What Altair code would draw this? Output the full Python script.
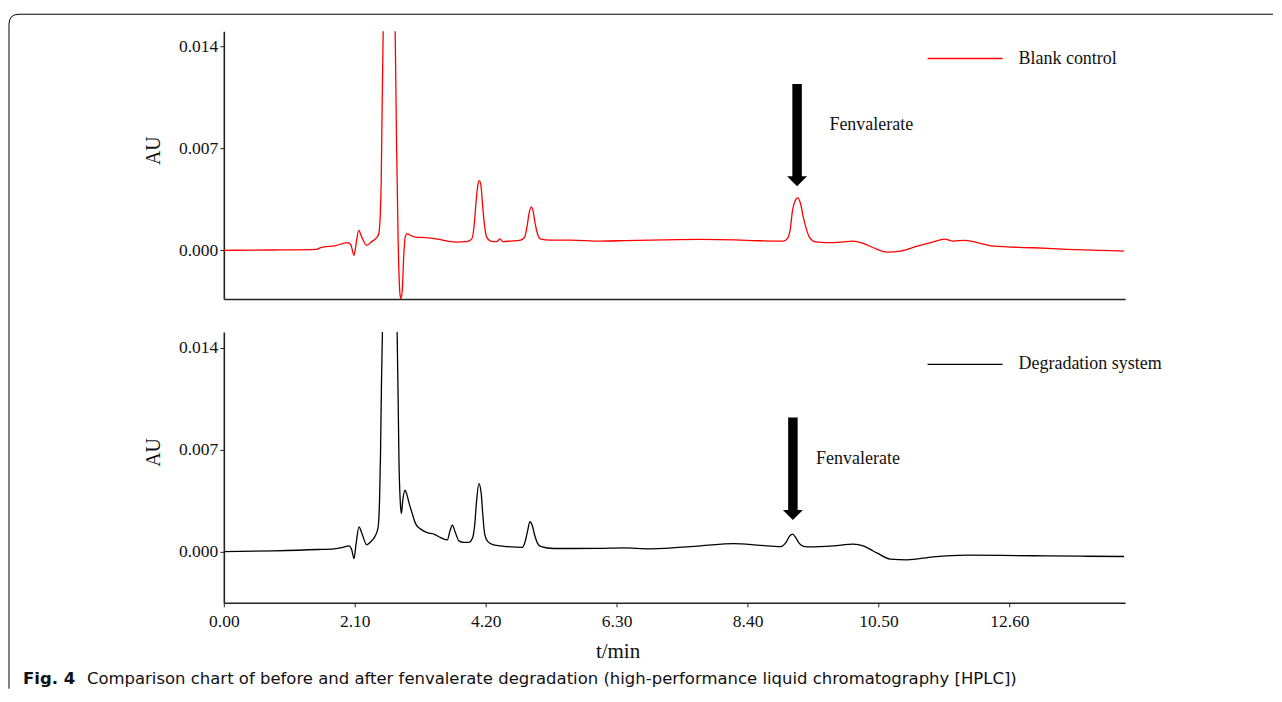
import altair as alt
import pandas as pd

# ---------------- data ----------------
t_blank = [0.000, 0.433, 0.913, 1.490, 1.554, 1.795, 1.979, 2.035, 2.088, 2.123,
           2.163, 2.212, 2.292, 2.372, 2.444, 2.484, 2.508, 2.524, 2.540, 2.556,
           2.588, 2.652, 2.716, 2.748, 2.772, 2.796, 2.821, 2.837, 2.861, 2.885,
           2.909, 2.941, 2.997, 3.077, 3.237, 3.429, 3.590, 3.718, 3.894, 3.974,
           4.014, 4.046, 4.071, 4.098, 4.127, 4.151, 4.183, 4.215, 4.279, 4.375,
           4.428, 4.471, 4.599, 4.760, 4.824, 4.864, 4.896, 4.931, 4.960, 4.992,
           5.032, 5.080, 5.240, 5.561, 6.042, 6.442, 6.843, 7.644, 8.205, 8.606,
           8.974, 9.043, 9.087, 9.119, 9.159, 9.204, 9.247, 9.295, 9.343, 9.391,
           9.487, 9.776, 10.096, 10.256, 10.417, 10.636, 10.849, 11.122, 11.378, 11.559,
           11.699, 11.891, 12.131, 12.340, 12.981, 13.526, 14.054, 14.439]
au_blank = [-0.00002, 0.00000, 0.00001, 0.00005, 0.00017, 0.00031, 0.00051, 0.00038, -0.00036, 0.00048,
            0.00135, 0.00089, 0.00032, 0.00058, 0.00082, 0.00110, 0.00233, 0.00474, 0.01023, 0.01503,
            0.02400, 0.03080, 0.02400, 0.01503, 0.00679, 0.00062, -0.00281, -0.00333, -0.00281, -0.00041,
            0.00089, 0.00113, 0.00100, 0.00089, 0.00086, 0.00075, 0.00062, 0.00055, 0.00058, 0.00075,
            0.00165, 0.00336, 0.00439, 0.00477, 0.00432, 0.00302, 0.00165, 0.00089, 0.00062, 0.00058,
            0.00077, 0.00058, 0.00062, 0.00069, 0.00089, 0.00165, 0.00254, 0.00297, 0.00268, 0.00185,
            0.00110, 0.00075, 0.00069, 0.00069, 0.00062, 0.00065, 0.00069, 0.00073, 0.00070, 0.00064,
            0.00062, 0.00082, 0.00151, 0.00268, 0.00336, 0.00359, 0.00323, 0.00223, 0.00144, 0.00089,
            0.00057, 0.00051, 0.00062, 0.00046, 0.00016, -0.00014, -0.00007, 0.00027, 0.00057, 0.00075,
            0.00062, 0.00067, 0.00046, 0.00027, 0.00016, 0.00005, -0.00002, -0.00007]

t_degr = [0.000, 0.801, 1.506, 1.763, 1.907, 2.008, 2.051, 2.088, 2.123, 2.168,
          2.212, 2.292, 2.356, 2.420, 2.473, 2.497, 2.513, 2.529, 2.543, 2.572,
          2.652, 2.732, 2.780, 2.796, 2.809, 2.829, 2.848, 2.869, 2.905, 2.933,
          2.970, 3.013, 3.077, 3.157, 3.264, 3.370, 3.478, 3.585, 3.627, 3.665,
          3.710, 3.771, 3.846, 3.931, 3.990, 4.022, 4.054, 4.091, 4.127, 4.151,
          4.183, 4.231, 4.327, 4.546, 4.787, 4.832, 4.872, 4.909, 4.944, 4.984,
          5.032, 5.080, 5.288, 5.561, 6.042, 6.394, 6.843, 7.644, 8.173, 8.606,
          8.926, 9.022, 9.071, 9.123, 9.175, 9.220, 9.279, 9.359, 9.776, 10.096,
          10.256, 10.369, 10.481, 10.689, 10.957, 11.378, 11.923, 12.452, 12.981, 13.734,
          14.439]
au_degr = [0.00002, 0.00007, 0.00016, 0.00021, 0.00031, 0.00041, 0.00014, -0.00046, 0.00062, 0.00172,
           0.00130, 0.00048, 0.00069, 0.00103, 0.00165, 0.00350, 0.00673, 0.01174, 0.01496, 0.02409,
           0.03438, 0.02409, 0.01496, 0.01036, 0.00625, 0.00350, 0.00263, 0.00350, 0.00423, 0.00398,
           0.00336, 0.00275, 0.00192, 0.00156, 0.00132, 0.00121, 0.00098, 0.00082, 0.00144, 0.00183,
           0.00137, 0.00075, 0.00065, 0.00065, 0.00096, 0.00178, 0.00350, 0.00469, 0.00405, 0.00268,
           0.00124, 0.00072, 0.00048, 0.00036, 0.00030, 0.00069, 0.00144, 0.00208, 0.00185, 0.00117,
           0.00058, 0.00038, 0.00023, 0.00023, 0.00024, 0.00027, 0.00021, 0.00041, 0.00057, 0.00045,
           0.00036, 0.00069, 0.00106, 0.00121, 0.00096, 0.00064, 0.00041, 0.00034, 0.00041, 0.00053,
           0.00041, 0.00017, -0.00009, -0.00050, -0.00055, -0.00034, -0.00023, -0.00024, -0.00027, -0.00030,
           -0.00032]

x_ticks = [0.0, 2.1, 4.2, 6.3, 8.4, 10.5, 12.6]
y_ticks = [0.0, 0.007, 0.014]
x_domain = [0.0, 14.455]
y_domain_top = [-0.003363, 0.015029]
y_domain_bottom = [-0.0035, 0.015098]

series_names = ["Blank control", "Degradation system"]
series_colors = ["#ff0000", "#000000"]

# annotation anchors (data units: t/min, AU)
arrow_t = [9.194, 9.127]
arrow_top = [0.01141, 0.00922]
arrow_head = [0.00473, 0.00253]
arrow_label = ["Fenvalerate", "Fenvalerate"]
label_t = [9.712, 9.499]
label_au = [0.00856, 0.00636]
legend_t = [11.287, 12.489]
legend_text_t = 12.745
legend_au = [0.013157, 0.012882]

x_title = "t/min"
y_title = "AU"
caption_bold = "Fig. 4"
caption_rest = ("Comparison chart of before and after fenvalerate degradation "
                "(high-performance liquid chromatography [HPLC])")

SERIF = "Liberation Serif"
SANS = "DejaVu Sans"
W = 902
NOVIEW = alt.ViewBackground(stroke="transparent", strokeWidth=0)


def panel(i, ts, aus, ydom, show_x, height, extra=None):
    xs = alt.Scale(domain=x_domain, nice=False, zero=False)
    ys = alt.Scale(domain=ydom, nice=False, zero=False)
    if show_x:
        xaxis = alt.Axis(values=x_ticks, format=".2f", title=x_title, grid=False,
                         labelFont=SERIF, labelFontSize=17.5, labelColor="#111",
                         labelFlush=False, labelPadding=6, tickSize=4, tickColor="#222",
                         tickWidth=1, domainColor="#222", domainWidth=1.6,
                         titleFont=SERIF, titleFontSize=21, titleFontWeight="normal",
                         titleColor="#111", titleX=394, titleY=49,
                         titleAlign="center", titleBaseline="middle")
    else:
        xaxis = alt.Axis(labels=False, ticks=False, title=None, grid=False,
                         domainColor="#222", domainWidth=1.6)
    yaxis = alt.Axis(values=y_ticks, format=".3f", title=y_title, grid=False,
                     labelFont=SERIF, labelFontSize=17.5, labelColor="#111",
                     labelFlush=False, labelPadding=2, tickSize=4, tickColor="#222",
                     tickWidth=1, domainColor="#222", domainWidth=1.6,
                     titleFont=SERIF, titleFontSize=20, titleFontWeight="normal",
                     titleColor="#111", titleAngle=270, titleX=-70,
                     titleY=119 if i == 0 else 120,
                     titleAlign="center", titleBaseline="middle")
    df = pd.DataFrame({"t": ts, "au": aus})
    line = alt.Chart(df).mark_line(color=series_colors[i], strokeWidth=1.3,
                                   clip=True, interpolate="monotone").encode(
        x=alt.X("t:Q", scale=xs, axis=xaxis),
        y=alt.Y("au:Q", scale=ys, axis=yaxis),
    )
    X = alt.X("t:Q", scale=xs)
    Y = alt.Y("au:Q", scale=ys)

    shaft_df = pd.DataFrame({"t": [arrow_t[i]], "au": [arrow_top[i]], "au2": [arrow_head[i]]})
    shaft = alt.Chart(shaft_df).mark_rule(color="black", strokeWidth=9.5, strokeCap="butt").encode(
        x=X, y=Y, y2="au2:Q")
    head_df = pd.DataFrame({"t": [arrow_t[i]], "au": [arrow_head[i]]})
    head = alt.Chart(head_df).mark_point(shape="M-1,-0.5L1,-0.5L0,0.5Z", size=400, filled=True,
                                         color="black", opacity=1, strokeWidth=0).encode(x=X, y=Y)
    lab_df = pd.DataFrame({"t": [label_t[i]], "au": [label_au[i]], "txt": [arrow_label[i]]})
    lab = alt.Chart(lab_df).mark_text(align="left", baseline="middle", font=SERIF,
                                      fontSize=18, color="#111").encode(x=X, y=Y, text="txt:N")
    leg_df = pd.DataFrame({"t": [legend_t[0]], "t2": [legend_t[1]], "au": [legend_au[i]]})
    leg_line = alt.Chart(leg_df).mark_rule(color=series_colors[i], strokeWidth=1.3).encode(
        x=X, x2="t2:Q", y=Y)
    legt_df = pd.DataFrame({"t": [legend_text_t], "au": [legend_au[i]], "txt": [series_names[i]]})
    leg_text = alt.Chart(legt_df).mark_text(align="left", baseline="middle", font=SERIF,
                                            fontSize=18, color="#111").encode(x=X, y=Y, text="txt:N")
    layers = [line, shaft, head, lab, leg_line, leg_text]
    if extra:
        layers += extra
    return alt.layer(*layers).properties(width=W, height=height, view=NOVIEW)


dummy = pd.DataFrame({"k": [0]})
frame = alt.Chart(dummy).mark_point(
    shape="M0,675L0,10Q0,0,10,0L1265,0", size=4, filled=False, color="black",
    strokeWidth=1, strokeJoin="round", strokeCap="butt", opacity=1).encode(
    x=alt.value(-215), y=alt.value(-17))

cap1 = alt.Chart(dummy).mark_text(align="left", baseline="alphabetic", font=SANS, fontSize=16.5,
                                  fontWeight="bold", color="#111").encode(
    x=alt.value(-201), y=alt.value(352), text=alt.value(caption_bold))
cap2 = alt.Chart(dummy).mark_text(align="left", baseline="alphabetic", font=SANS, fontSize=16.5,
                                  color="#111").encode(
    x=alt.value(-137), y=alt.value(352), text=alt.value(caption_rest))

top = panel(0, t_blank, au_blank, y_domain_top, False, 268, extra=[frame])
bottom = panel(1, t_degr, au_degr, y_domain_bottom, True, 271, extra=[cap1, cap2])

chart = alt.vconcat(top, bottom, spacing=33, bounds="flush").properties(
    padding={"left": 0, "top": 5, "right": 0, "bottom": 0}
).configure_view(stroke="transparent", strokeWidth=0).configure(background="white")

chart.save("out.html", embed_options={"renderer": "svg", "actions": False})
